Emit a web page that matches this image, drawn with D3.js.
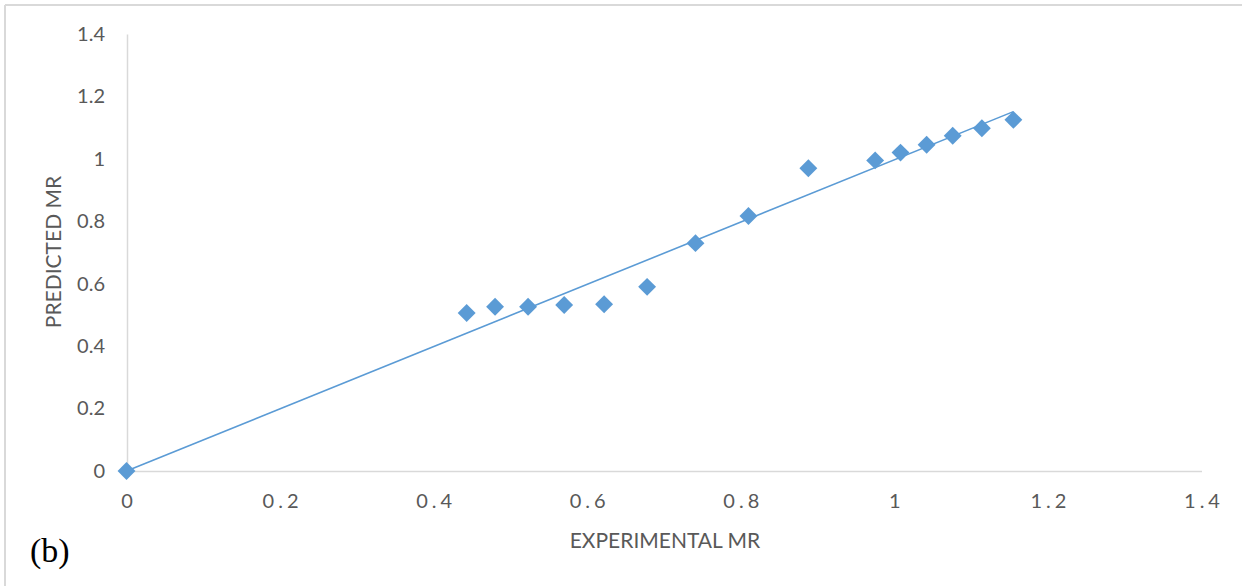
<!DOCTYPE html>
<html>
<head>
<meta charset="utf-8">
<script src="https://cdn.jsdelivr.net/npm/d3@7/dist/d3.min.js"></script>
<style>
  body { margin: 0; background: #fff; }
  svg { display: block; }
  .tick text { fill: #595959; font-family: Lato, "Open Sans", sans-serif; font-size: 20px; }
  .domain { stroke: #d9d9d9; stroke-width: 1.5px; }
</style>
</head>
<body>
<svg width="1242" height="586"></svg>
<script>
// experimental vs predicted moisture ratio
var experimental = [0, 0.443, 0.480, 0.523, 0.570, 0.622, 0.678, 0.741, 0.810, 0.888, 0.975, 1.008, 1.042, 1.076, 1.114, 1.155]
var predicted    = [0, 0.506, 0.526, 0.526, 0.532, 0.534, 0.590, 0.730, 0.817, 0.970, 0.995, 1.020, 1.045, 1.074, 1.098, 1.125]

var xTicks = [0, 0.2, 0.4, 0.6, 0.8, 1, 1.2, 1.4]
var yTicks = [0, 0.2, 0.4, 0.6, 0.8, 1, 1.2, 1.4]

var blue = '#5b9bd5'

const svg = d3.select('svg')

// outer frame (only top and left edges show)
svg.append('line').attr('x1', 5).attr('x2', 1242).attr('y1', 5).attr('y2', 5)
  .attr('stroke', '#d9d9d9').attr('stroke-width', 2)
svg.append('line').attr('x1', 5).attr('x2', 5).attr('y1', 5).attr('y2', 586)
  .attr('stroke', '#d9d9d9').attr('stroke-width', 2)

const xScale = d3.scaleLinear().domain([0, 1.4]).range([126.5, 1201.5])
const yScale = d3.scaleLinear().domain([0, 1.4]).range([471, 34])

// x axis
const xAxis = svg.append('g')
  .attr('transform', 'translate(0, 471)')
  .call(d3.axisBottom(xScale).tickValues(xTicks).tickFormat(d => String(d))
    .tickSizeInner(0).tickSizeOuter(0).tickPadding(23))
xAxis.selectAll('.tick text')
  .style('letter-spacing', '4px')
  .attr('dx', 2)

// y axis
svg.append('g')
  .attr('transform', 'translate(127, 0)')
  .call(d3.axisLeft(yScale).tickValues(yTicks).tickFormat(d => String(d))
    .tickSizeInner(0).tickSizeOuter(0).tickPadding(22))

// trendline through origin (least squares, zero intercept)
var sxy = d3.sum(experimental, (d, i) => d * predicted[i])
var sxx = d3.sum(experimental, d => d * d)
var slope = sxy / sxx
var xMax = d3.max(experimental)
var trend = [[0, 0], [xMax, slope * xMax]]

svg.append('path')
  .datum(trend)
  .attr('fill', 'none')
  .attr('stroke', blue)
  .attr('stroke-width', 1.6)
  .attr('d', d3.line().x(d => xScale(d[0])).y(d => yScale(d[1])))

// markers (diamonds)
svg.selectAll('.pt')
  .data(experimental)
  .enter()
  .append('path')
  .attr('class', 'pt')
  .attr('d', d3.symbol().type(d3.symbolSquare).size(160))
  .attr('transform', (d, i) => `translate(${xScale(d)}, ${yScale(predicted[i])}) rotate(45)`)
  .attr('fill', blue)

// axis titles
svg.append('text')
  .attr('x', 665)
  .attr('y', 548)
  .attr('text-anchor', 'middle')
  .style('font-family', 'Lato, "Open Sans", sans-serif')
  .style('font-size', '21px')
  .attr('fill', '#595959')
  .text('EXPERIMENTAL MR')

svg.append('text')
  .attr('transform', 'translate(61, 252) rotate(-90)')
  .attr('text-anchor', 'middle')
  .style('font-family', 'Lato, "Open Sans", sans-serif')
  .style('font-size', '21px')
  .attr('fill', '#595959')
  .text('PREDICTED MR')

// panel label
svg.append('text')
  .attr('x', 30)
  .attr('y', 562)
  .style('font-family', '"Liberation Serif", "DejaVu Serif", serif')
  .style('font-size', '34px')
  .attr('fill', '#000')
  .text('(b)')
</script>
</body>
</html>
